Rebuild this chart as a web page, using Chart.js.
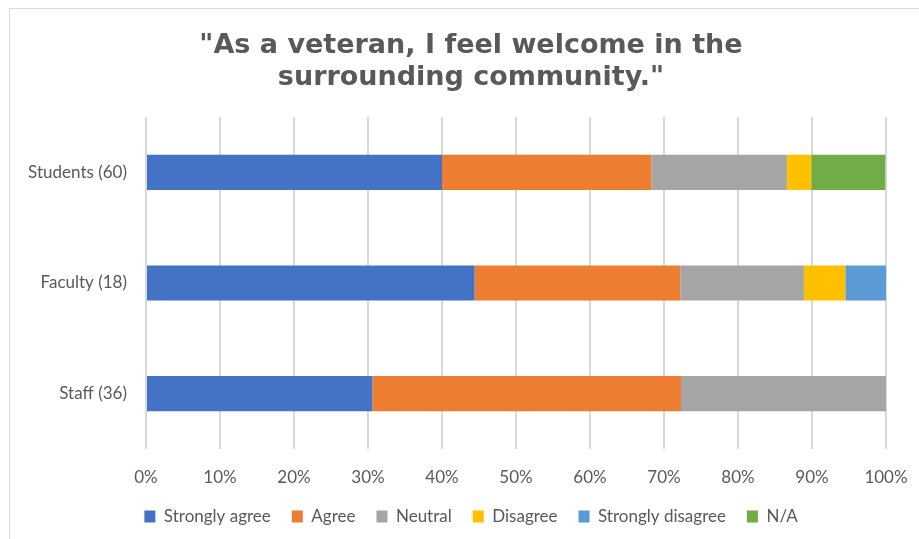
<!DOCTYPE html>
<html>
<head>
<meta charset="utf-8">
<script src="https://cdn.jsdelivr.net/npm/chart.js@4.4.1/dist/chart.umd.min.js"></script>
<style>
  html, body { margin: 0; padding: 0; background: #fff; overflow: hidden; }
  #frame { position: absolute; left: 9px; top: 8px; width: 930px; height: 560px; border: 1px solid #d9d9d9; }
  #chart { position: absolute; left: 0; top: 0; }
</style>
</head>
<body>
<div id="frame"></div>
<!-- a bit wider than the window so the title sits where the original has it -->
<canvas id="chart" width="942" height="539"></canvas>
<script>
// survey groups, top to bottom
const groups = ['Students (60)', 'Faculty (18)', 'Staff (36)'];

// share of responses per answer (%), same order as groups
const stronglyAgree    = [40.0, 44.4, 30.6];
const agree            = [28.3, 27.8, 41.7];
const neutral          = [18.3, 16.7, 27.8];
const disagree         = [3.3, 5.6, 0];
const stronglyDisagree = [0, 5.6, 0];
const notApplicable    = [10.0, 0, 0];

const xTicks = [0, 10, 20, 30, 40, 50, 60, 70, 80, 90, 100];

const textColor = '#595959';
const gridColor = '#d9d9d9';

const series = [
  { label: 'Strongly agree',    data: stronglyAgree,    color: '#4472C4' },
  { label: 'Agree',             data: agree,            color: '#ED7D31' },
  { label: 'Neutral',           data: neutral,          color: '#A5A5A5' },
  { label: 'Disagree',          data: disagree,         color: '#FFC000' },
  { label: 'Strongly disagree', data: stronglyDisagree, color: '#5B9BD5' },
  { label: 'N/A',               data: notApplicable,    color: '#70AD47' },
];

new Chart(document.getElementById('chart').getContext('2d'), {
  type: 'bar',
  data: {
    labels: groups,
    datasets: series.map(s => ({
      label: s.label,
      data: s.data,
      backgroundColor: s.color,
      borderWidth: 0,
      barPercentage: 0.318,
      categoryPercentage: 1,
    })),
  },
  options: {
    indexAxis: 'y',
    responsive: false,
    animation: false,
    layout: { padding: { top: 0, right: 0, bottom: 4, left: 0 } },
    scales: {
      x: {
        stacked: true,
        min: 0,
        max: 100,
        afterBuildTicks: scale => { scale.ticks = xTicks.map(v => ({ value: v })); },
        afterFit: scale => { scale.height = 38; },
        ticks: {
          color: textColor,
          font: { family: 'Lato', size: 17 },
          padding: 18,
          callback: v => v + '%',
        },
        grid: { color: gridColor, lineWidth: 2, drawTicks: false },
        border: { display: false },
      },
      y: {
        stacked: true,
        afterFit: scale => { scale.width = 146; },
        ticks: {
          color: textColor,
          font: { family: 'Lato', size: 17 },
          padding: 19,
        },
        grid: { display: false, drawTicks: false },
        border: { display: false },
      },
      // empty spacer on the right, keeps the plot end at 100% where the original has it
      spacer: {
        type: 'category',
        position: 'right',
        afterFit: scale => { scale.width = 56; },
        ticks: { display: false },
        grid: { display: false, drawTicks: false },
        border: { display: false },
      },
    },
    plugins: {
      title: {
        display: true,
        text: ['"As a veteran, I feel welcome in the', 'surrounding community."'],
        color: textColor,
        font: { family: 'DejaVu Sans', size: 27, weight: 'bold', lineHeight: 1.185 },
        padding: { top: 30, bottom: 23 },
      },
      legend: {
        position: 'bottom',
        labels: {
          color: textColor,
          font: { family: 'Lato', size: 17 },
          boxWidth: 11,
          boxHeight: 12,
          padding: 21,
        },
      },
      tooltip: { enabled: false },
    },
  },
});
</script>
</body>
</html>
